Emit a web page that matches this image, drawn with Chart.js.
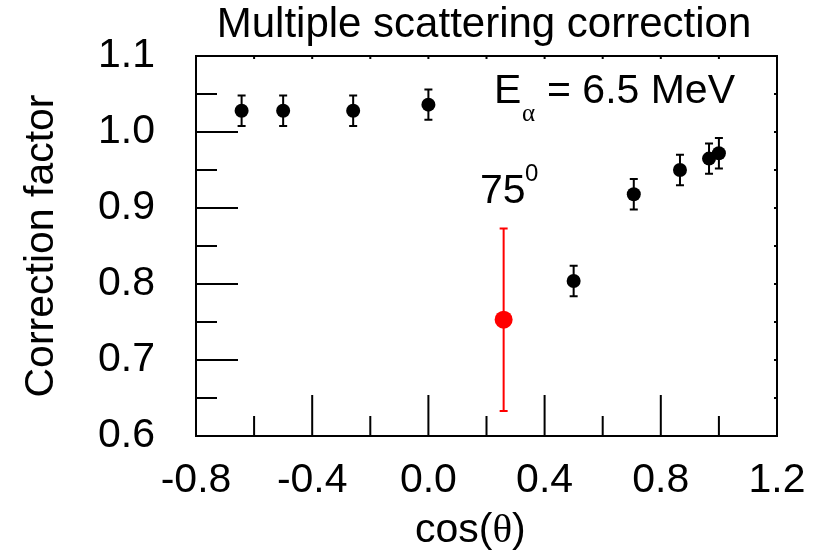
<!DOCTYPE html>
<html>
<head>
<meta charset="utf-8">
<script src="https://cdn.jsdelivr.net/npm/chart.js@4"></script>
<style>
  html, body { margin: 0; padding: 0; background: #fff; }
  canvas { display: block; }
</style>
</head>
<body>
<canvas id="chart" width="818" height="555"></canvas>
<script>
// cos(theta) of each detector angle and the measured correction factor
const cosTheta = [-0.643, -0.5, -0.259, 0.0, 0.5, 0.707, 0.866, 0.966, 1.0]
const factor = [1.028, 1.028, 1.028, 1.036, 0.804, 0.918, 0.950, 0.965, 0.972]
const factorErr = [0.02, 0.02, 0.02, 0.02, 0.02, 0.02, 0.02, 0.02, 0.02]

// the 75 degree point, shown in red
const redCos = [0.259]
const redFactor = [0.753]
const redErr = [0.12]

const xTickValues = [-0.8, -0.4, 0.0, 0.4, 0.8, 1.2]
const xMinorValues = [-0.6, -0.2, 0.2, 0.6, 1.0]
const yTickValues = [0.6, 0.7, 0.8, 0.9, 1.0, 1.1]
const yMinorValues = [0.65, 0.75, 0.85, 0.95, 1.05]

const SANS = '"Liberation Sans", Arial, sans-serif'
const SERIF = '"Liberation Serif", "Times New Roman", serif'

const errorBars = {
  id: 'errorBars',
  beforeDatasetsDraw(chart) {
    const { ctx, scales: { x, y } } = chart
    const errs = [factorErr, redErr]
    chart.data.datasets.forEach((ds, i) => {
      ctx.save()
      ctx.strokeStyle = ds.backgroundColor
      ctx.lineWidth = 2
      ds.data.forEach((p, j) => {
        const px = x.getPixelForValue(p.x)
        const top = y.getPixelForValue(p.y + errs[i][j])
        const bot = y.getPixelForValue(p.y - errs[i][j])
        ctx.beginPath()
        ctx.moveTo(px, top); ctx.lineTo(px, bot)
        ctx.moveTo(px - 4, top); ctx.lineTo(px + 4, top)
        ctx.moveTo(px - 4, bot); ctx.lineTo(px + 4, bot)
        ctx.stroke()
      })
      ctx.restore()
    })
  }
}

// closed frame with inward ticks, plus the free-standing labels
const frame = {
  id: 'frame',
  beforeDatasetsDraw(chart) {
    const { ctx, chartArea: a, scales: { x, y } } = chart
    ctx.save()
    ctx.strokeStyle = '#000'
    ctx.lineWidth = 2
    ctx.beginPath()
    xTickValues.concat(xMinorValues).forEach(v => {
      const px = x.getPixelForValue(v)
      const len = xTickValues.includes(v) ? 41 : 20
      ctx.moveTo(px, a.bottom); ctx.lineTo(px, a.bottom - len)
      ctx.moveTo(px, a.top); ctx.lineTo(px, a.top + 3)
    })
    yTickValues.concat(yMinorValues).forEach(v => {
      const py = y.getPixelForValue(v)
      const len = yTickValues.includes(v) ? 42 : 21
      ctx.moveTo(a.left, py); ctx.lineTo(a.left + len, py)
      ctx.moveTo(a.right, py); ctx.lineTo(a.right - 3, py)
    })
    ctx.stroke()
    ctx.strokeRect(a.left, a.top, a.right - a.left, a.bottom - a.top)
    ctx.restore()
  },
  afterDraw(chart) {
    const { ctx } = chart
    ctx.save()
    ctx.fillStyle = '#000'
    ctx.textBaseline = 'alphabetic'

    ctx.textAlign = 'center'
    ctx.font = '42px ' + SANS
    ctx.fillText('Multiple scattering correction', 484, 37)

    ctx.textAlign = 'left'
    ctx.font = '41px ' + SANS
    ctx.fillText('E', 494, 103)
    ctx.fillText('= 6.5 MeV', 547, 103)
    ctx.fillText('75', 480, 203)
    ctx.font = '25px ' + SERIF
    ctx.fillText('\u03b1', 522, 121)
    ctx.font = '24px ' + SANS
    ctx.fillText('0', 525, 181)

    // x axis title, the theta is set in a serif face
    ctx.font = '41px ' + SANS
    let cx = 415
    ctx.fillText('cos(', cx, 542)
    cx += ctx.measureText('cos(').width
    ctx.font = '41px ' + SERIF
    ctx.fillText('\u03b8', cx, 542)
    cx += ctx.measureText('\u03b8').width
    ctx.font = '41px ' + SANS
    ctx.fillText(')', cx, 542)
    ctx.restore()
  }
}

new Chart(document.getElementById('chart'), {
  type: 'scatter',
  data: {
    datasets: [
      {
        data: cosTheta.map((c, i) => ({ x: c, y: factor[i] })),
        backgroundColor: '#000',
        borderWidth: 0,
        pointRadius: 7,
        pointHoverRadius: 7,
      },
      {
        data: redCos.map((c, i) => ({ x: c, y: redFactor[i] })),
        backgroundColor: '#ff0000',
        borderWidth: 0,
        pointRadius: 9,
        pointHoverRadius: 9,
      }
    ]
  },
  options: {
    responsive: false,
    animation: false,
    layout: { autoPadding: false, padding: { left: 0, right: 41, top: 56, bottom: 0 } },
    plugins: {
      legend: { display: false },
      tooltip: { enabled: false },
      title: { display: false },
    },
    scales: {
      x: {
        type: 'linear',
        min: -0.8,
        max: 1.2,
        afterBuildTicks: s => { s.ticks = xTickValues.map(v => ({ value: v })) },
        afterFit: s => { s.height = 119 },
        // tick marks are drawn by the frame plugin; tickLength only sets the label offset
        grid: { display: false, drawTicks: true, tickLength: 12 },
        border: { display: false },
        ticks: {
          color: '#000',
          padding: 8,
          maxRotation: 0,
          font: { family: SANS, size: 41 },
          callback: v => Math.abs(v) < 1e-9 ? '0.0' : v.toFixed(1),
        }
      },
      y: {
        min: 0.6,
        max: 1.1,
        afterBuildTicks: s => { s.ticks = yTickValues.map(v => ({ value: v })) },
        afterFit: s => { s.width = 196 },
        grid: { display: false, drawTicks: true, tickLength: 33 },
        border: { display: false },
        title: {
          display: true,
          text: 'Correction factor',
          color: '#000',
          font: { family: SANS, size: 41 },
          padding: { top: 17, bottom: 0 },
        },
        ticks: {
          color: '#000',
          padding: 8,
          font: { family: SANS, size: 41 },
          callback: v => v.toFixed(1),
        }
      }
    }
  },
  plugins: [errorBars, frame]
})
</script>
</body>
</html>
